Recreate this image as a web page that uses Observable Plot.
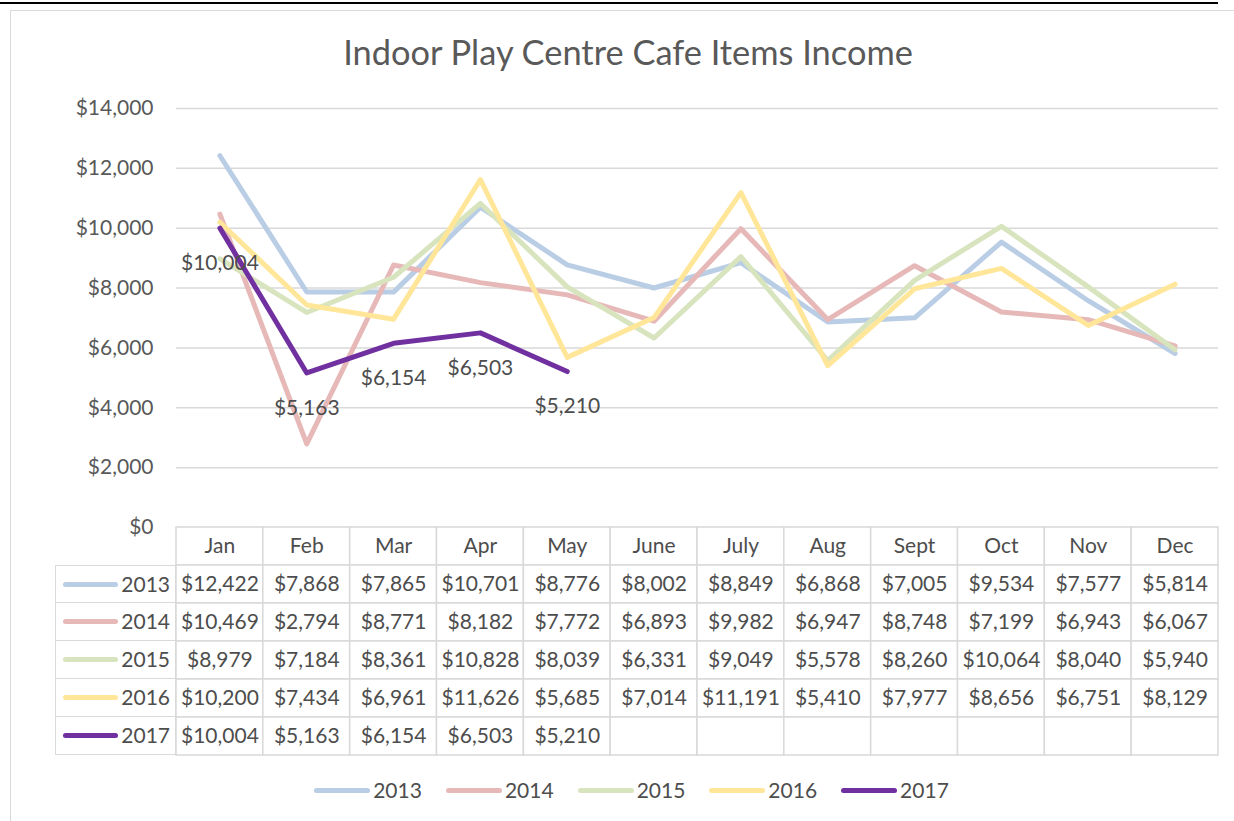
<!DOCTYPE html>
<html><head><meta charset="utf-8">
<script src="https://cdn.jsdelivr.net/npm/d3@7"></script>
<script src="https://cdn.jsdelivr.net/npm/@observablehq/plot@0.6"></script>
<style>
html,body{margin:0;padding:0;background:#fff;}
#wrap{position:relative;width:1234px;height:821px;overflow:hidden;font-family:Lato,"Open Sans",sans-serif;color:#595959;}
#topline{position:absolute;left:0;top:2px;width:1218px;height:1.5px;background:#000;}
#frame{position:absolute;left:10px;top:10px;width:1300px;height:900px;border-left:1.5px solid #D9D9D9;border-top:1.5px solid #D9D9D9;}
#title{position:absolute;left:11px;top:35px;width:1234px;text-align:center;font-size:34.4px;line-height:34px;color:#595959;}
#chart{position:absolute;left:0;top:0;}
#table{position:absolute;left:0;top:525px;}
#key{position:absolute;left:55px;top:565px;width:121px;}
#key .row{position:relative;height:38px;box-sizing:border-box;border:1.5px solid #D9D9D9;border-top:none;}
#key .row:first-child{border-top:1.5px solid #D9D9D9;}
#key .sw{position:absolute;left:7px;top:16px;width:55px;height:5px;border-radius:3px;}
#key .lab{position:absolute;right:5px;top:6px;font-size:21px;line-height:24px;color:#4d4d4d;}
#legend{position:absolute;left:0;top:778px;width:1263px;display:flex;justify-content:center;}
#legend .item{display:flex;align-items:center;margin:0 12px;}
#legend .sw{width:56px;height:5px;border-radius:3px;margin-right:3px;}
#legend .lab{font-size:21px;line-height:24px;color:#4d4d4d;}
svg text{font-family:Lato,"Open Sans",sans-serif;}
</style></head><body>
<div id="wrap">
  <div id="topline"></div>
  <div id="frame"></div>
  <div id="title">Indoor Play Centre Cafe Items Income</div>
  <div id="chart"></div>
  <div id="table"></div>
  <div id="key"></div>
  <div id="legend"></div>
</div>
<script>
const months = ["Jan","Feb","Mar","Apr","May","June","July","Aug","Sept","Oct","Nov","Dec"];
const years = ["2013","2014","2015","2016","2017"];
const colors = ["#B9CDE5","#E6B9B8","#D7E4BD","#FFE699","#7030A0"];
const v2013 = [12422,7868,7865,10701,8776,8002,8849,6868,7005,9534,7577,5814];
const v2014 = [10469,2794,8771,8182,7772,6893,9982,6947,8748,7199,6943,6067];
const v2015 = [8979,7184,8361,10828,8039,6331,9049,5578,8260,10064,8040,5940];
const v2016 = [10200,7434,6961,11626,5685,7014,11191,5410,7977,8656,6751,8129];
const v2017 = [10004,5163,6154,6503,5210,null,null,null,null,null,null,null];
const yTicks = [0,2000,4000,6000,8000,10000,12000,14000];

const series = [v2013,v2014,v2015,v2016,v2017];
const fmt = d3.format("$,.0f");

const lineData = [];
years.forEach((yr,i)=>series[i].forEach((v,j)=>{ if(v!=null) lineData.push({year:yr, month:months[j], value:v}); }));

const W = 1234, L = 176, R = 16;
const chart = Plot.plot({
  width:W, height:540, marginLeft:L, marginRight:R, marginTop:108, marginBottom:13,
  x:{type:"point", domain:months, padding:0.5, round:false, range:[L, W-R], axis:null},
  y:{domain:[0,14000], range:[527,108], ticks:7, tickFormat:fmt, tickSize:0, tickPadding:23, label:null},
  color:{domain:years, range:colors},
  style:{fontFamily:"Lato", fontSize:"21px", color:"#595959", background:"transparent", overflow:"visible"},
  marks:[
    Plot.ruleY(yTicks, {stroke:"#D9D9D9", strokeWidth:1.5}),
    Plot.line(lineData, {x:"month", y:"value", z:"year", stroke:"year", strokeWidth:5, strokeLinejoin:"round", strokeLinecap:"round"}),
    Plot.text(lineData.filter(d=>d.year==="2017"), {x:"month", y:"value", text:d=>fmt(d.value), dy:35, fill:"#4d4d4d", fontSize:21})
  ]
});
document.getElementById("chart").append(chart);

const rows = ["Month", ...years];
const cells = [];
rows.forEach((r,ri)=>months.forEach((m,j)=>{
  const v = ri===0 ? null : series[ri-1][j];
  cells.push({row:r, month:m, text: ri===0 ? m : (v==null ? "" : fmt(v))});
}));
const table = Plot.plot({
  width:W, height:232, marginLeft:L, marginRight:R, marginTop:2, marginBottom:2,
  x:{type:"band", domain:months, padding:0, round:false, range:[L, W-R], axis:null},
  y:{type:"band", domain:rows, padding:0, round:false, range:[2,230], axis:null},
  style:{fontFamily:"Lato", fontSize:"21px", background:"transparent", overflow:"visible"},
  marks:[
    Plot.cell(cells, {x:"month", y:"row", fill:"white", stroke:"#D9D9D9", strokeWidth:1.5, inset:0}),
    Plot.text(cells, {x:"month", y:"row", text:"text", fill:"#4d4d4d", fontSize:21})
  ]
});
document.getElementById("table").append(table);

const key = document.getElementById("key");
const legend = document.getElementById("legend");
years.forEach((yr,i)=>{
  const r = document.createElement("div"); r.className="row";
  r.innerHTML = `<div class="sw" style="background:${colors[i]}"></div><div class="lab">${yr}</div>`;
  key.append(r);
  const it = document.createElement("div"); it.className="item";
  it.innerHTML = `<div class="sw" style="background:${colors[i]}"></div><div class="lab">${yr}</div>`;
  legend.append(it);
});
</script>
</body></html>
